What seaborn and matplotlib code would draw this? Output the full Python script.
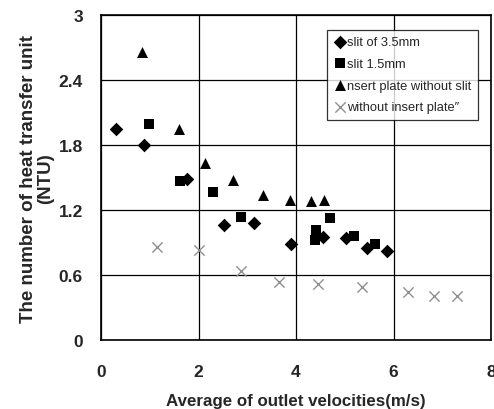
import matplotlib
matplotlib.use("Agg")
import matplotlib.pyplot as plt
import seaborn as sns
import pandas as pd

# Data
slit35_x = [0.31, 0.88, 1.76, 2.52, 3.14, 3.90, 4.56, 5.03, 5.45, 5.87]
slit35_y = [1.95, 1.80, 1.49, 1.06, 1.08, 0.89, 0.95, 0.94, 0.85, 0.82]

slit15_x = [0.98, 1.63, 2.30, 2.87, 4.41, 4.39, 4.70, 5.18, 5.63]
slit15_y = [1.99, 1.47, 1.37, 1.14, 1.02, 0.92, 1.13, 0.96, 0.89]

noslit_x = [0.85, 1.59, 2.13, 2.70, 3.32, 3.88, 4.30, 4.57]
noslit_y = [2.66, 1.95, 1.63, 1.48, 1.34, 1.29, 1.28, 1.29]

noplate_x = [1.14, 2.01, 2.87, 3.65, 4.46, 5.35, 6.30, 6.84, 7.30]
noplate_y = [0.86, 0.83, 0.64, 0.54, 0.52, 0.49, 0.44, 0.41, 0.41]

labels = ["slit of 3.5mm", "slit 1.5mm", "nsert plate without slit", "without insert plate\u2033"]
x_ticks = [0, 2, 4, 6, 8]
y_ticks = [0, 0.6, 1.2, 1.8, 2.4, 3]
y_tick_labels = ["0", "0.6", "1.2", "1.8", "2.4", "3"]

sns.set_style("white")
plt.rcParams['font.family'] = ['Liberation Sans', 'DejaVu Sans']

fig = plt.figure(figsize=(4.94, 4.10), dpi=100)
ax = fig.add_axes([0.2045, 0.168, 0.7895, 0.793])

series = [
    (slit35_x, slit35_y, labels[0], "D", "black", 48, 0),
    (slit15_x, slit15_y, labels[1], "s", "black", 58, 0),
    (noslit_x, noslit_y, labels[2], "^", "black", 62, 0),
    (noplate_x, noplate_y, labels[3], "x", "#909090", 55, 1.0),
]
for xs, ys, lab, m, c, s, lw in series:
    df = pd.DataFrame({"x": xs, "y": ys})
    kw = dict(linewidths=lw) if m == "x" else dict(edgecolor=c, linewidth=0)
    sns.scatterplot(data=df, x="x", y="y", marker=m, color=c, s=s, ax=ax,
                    label=lab, **kw)

ax.set_xlim(0, 8)
ax.set_ylim(0, 3)
ax.set_xticks(x_ticks)
ax.set_yticks(y_ticks)
ax.set_yticklabels(y_tick_labels)
ax.grid(True, color="black", linewidth=0.9)
for sp in ax.spines.values():
    sp.set_color("black")
    sp.set_linewidth(1.2)
ax.tick_params(axis="y", labelsize=12.5, length=0, pad=13)
ax.tick_params(axis="x", labelsize=12.5, length=0, pad=17)
for t in ax.get_xticklabels() + ax.get_yticklabels():
    t.set_fontweight("bold")

ax.set_xlabel("Average of outlet velocities(m/s)", fontsize=12.2, fontweight="bold", labelpad=10)
ax.set_ylabel("The number of heat transfer unit\n(NTU)", fontsize=13.5, fontweight="bold",
              labelpad=3, linespacing=1.0)

leg = ax.legend(loc="upper left", bbox_to_anchor=(0.58, 0.955), frameon=True,
                fancybox=False, edgecolor="black", fontsize=9.3, handletextpad=0.05,
                handlelength=1.0, borderpad=0.5, labelspacing=0.75, borderaxespad=0,
                markerscale=1.0)
leg.get_frame().set_linewidth(0.9)

fig.savefig("out.png", dpi=100)
